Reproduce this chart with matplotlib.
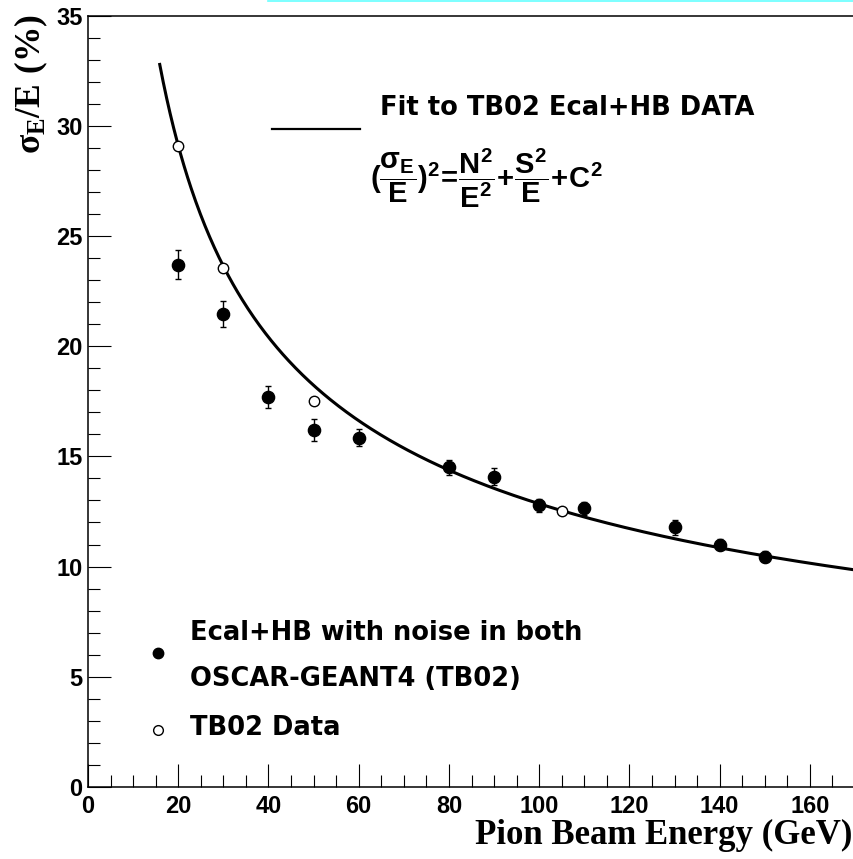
import numpy as np
import matplotlib
matplotlib.use("Agg")
import matplotlib.pyplot as plt
from matplotlib.lines import Line2D

plt.rcParams['mathtext.fontset'] = 'custom'
plt.rcParams['mathtext.rm'] = 'Liberation Serif:bold'
plt.rcParams['mathtext.sf'] = 'Liberation Sans:bold'
plt.rcParams['mathtext.it'] = 'Liberation Sans:bold'
plt.rcParams['mathtext.bf'] = 'Liberation Sans:bold'

# OSCAR-GEANT4 (TB02) simulation, Ecal+HB with noise in both
sim_energy = [20, 30, 40, 50, 60, 80, 90, 100, 110, 130, 140, 150]
sim_res = [23.7, 21.45, 17.68, 16.2, 15.85, 14.5, 14.08, 12.78, 12.65, 11.78, 10.98, 10.45]
sim_err = [0.65, 0.6, 0.5, 0.5, 0.4, 0.35, 0.38, 0.3, 0.3, 0.35, 0.25, 0.25]

# TB02 test beam data
tb_energy = [20, 30, 50, 105]
tb_res = [29.1, 23.55, 17.5, 12.5]

# fit parameters: (sigma/E)^2 = N^2/E^2 + S^2/E + C^2  (in %)
fit_N = 107.0
fit_S = 127.9
fit_C = 0.6
fit_range = (15.9, 170.0)

sans = 'Liberation Sans'
wide = 'DejaVu Sans'
serif = 'Liberation Serif'

fig = plt.figure(figsize=(8.54, 8.59), dpi=100)
ax = fig.add_axes([88 / 854, 1 - 787 / 859, 767 / 854, (787 - 15.5) / 859])

e = np.linspace(fit_range[0], fit_range[1], 600)
fit = np.sqrt(fit_N**2 / e**2 + fit_S**2 / e + fit_C**2)
ax.plot(e, fit, color='black', lw=2.2, zorder=2)

ax.errorbar(sim_energy, sim_res, yerr=sim_err, fmt='o', color='black',
            ms=8.8, elinewidth=1.0, capsize=2.5, capthick=1.0, zorder=3)
ax.plot(tb_energy, tb_res, 'o', mfc='white', mec='black', mew=1.0, ms=7.5,
        zorder=4)

ax.set_xlim(0, 170)
ax.set_ylim(0, 35)
ax.set_xticks(np.arange(0, 170, 20))
ax.set_xticks(np.arange(0, 171, 5), minor=True)
ax.set_yticks(np.arange(0, 36, 5))
ax.set_yticks(np.arange(0, 36, 1), minor=True)
ax.tick_params(which='both', direction='in', width=0.8, top=False, right=False)
ax.tick_params(which='major', length=16.5)
ax.tick_params(which='minor', length=8.5)
ax.tick_params(axis='y', pad=4)
ax.tick_params(axis='x', pad=6)
for lab in ax.get_xticklabels() + ax.get_yticklabels():
    lab.set_fontfamily(sans)
    lab.set_fontweight('bold')
    lab.set_fontsize(17)
for s in ['left', 'bottom', 'top']:
    ax.spines[s].set_linewidth(1.1)
ax.spines['right'].set_visible(False)

# fit key
ax.add_line(Line2D([40.8, 60.3], [29.86, 29.86], color='black', lw=1.6))
ax.text(64.7, 30.8, 'Fit to TB02 Ecal+HB DATA', fontfamily=wide,
        fontweight='bold', fontsize=18.5, va='center', ha='left')
ax.text(62.5, 27.6,
        r'$\mathsf{(\dfrac{\sigma_E}{E})^2\!=\!\dfrac{N^2}{E^2}\!+\!\dfrac{S^2}{E}\!+\!C^2}$',
        fontsize=21, va='center', ha='left')

# legend
ax.plot([15.5], [6.1], 'o', color='black', ms=7.5, clip_on=False)
ax.text(22.6, 7.0, 'Ecal+HB with noise in both', fontfamily=wide,
        fontweight='bold', fontsize=18.5, va='center', ha='left')
ax.text(22.6, 4.92, 'OSCAR-GEANT4 (TB02)', fontfamily=wide,
        fontweight='bold', fontsize=18.5, va='center', ha='left')
ax.plot([15.5], [2.57], 'o', mfc='white', mec='black', mew=1.0, ms=7)
ax.text(22.6, 2.66, 'TB02 Data', fontfamily=wide,
        fontweight='bold', fontsize=18.5, va='center', ha='left')

# axis titles
fig.text(31 / 854, 1 - 14 / 859, r'$\mathrm{\sigma_E/E\ (\%)}$', rotation=90,
         fontsize=25.5, ha='center', va='top')
fig.text(852 / 854, 1 - 835 / 859, 'Pion Beam Energy (GeV)', fontfamily=serif,
         fontweight='bold', fontsize=25, ha='right', va='center')

# cyan strip along top edge
fig.add_artist(Line2D([268 / 854, 1.0], [1 - 0.5 / 859, 1 - 0.5 / 859],
                      color='#66ffff', lw=1.2))

fig.savefig('out.png', dpi=100)
